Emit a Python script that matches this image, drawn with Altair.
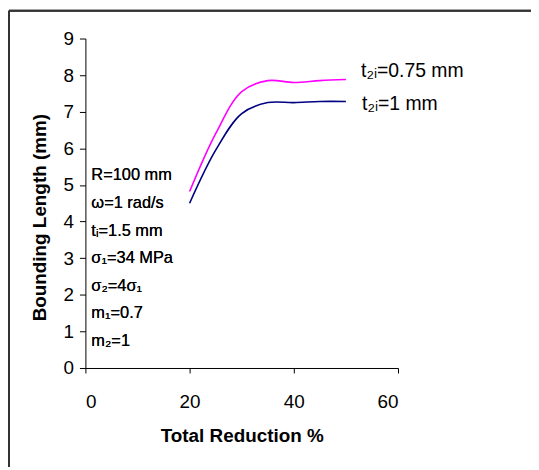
import altair as alt
import pandas as pd

reduction = [20, 25, 30, 35, 40, 45, 50]
len_075 = [4.82, 6.40, 7.55, 7.85, 7.80, 7.85, 7.88]
len_1 = [4.50, 5.95, 6.95, 7.25, 7.25, 7.28, 7.28]
series_names = ["t2i=0.75 mm", "t2i=1 mm"]
series_colors = ["#FF00FF", "#000080"]
label_texts = ["t\u2082\u1d62=0.75 mm", "t\u2082\u1d62=1 mm"]
label_x = [52.9, 53.1]
label_y = [8.1, 7.2]
note_lines = ["R=100 mm", "\u03c9=1 rad/s", "t\u1d62=1.5 mm", "\u03c3\u2081=34 MPa",
              "\u03c3\u2082=4\u03c3\u2081", "m\u2081=0.7", "m\u2082=1"]
x_ticks = [0, 20, 40, 60]
y_ticks = [0, 1, 2, 3, 4, 5, 6, 7, 8, 9]

df = pd.DataFrame({
    "x": reduction * 2,
    "y": len_075 + len_1,
    "s": [series_names[0]] * len(reduction) + [series_names[1]] * len(reduction),
})
lab = pd.DataFrame({"x": label_x, "y": label_y, "t": label_texts})

FONT = "Liberation Sans"

xs = alt.Scale(domain=[0, 60], nice=False)
ys = alt.Scale(domain=[0, 9], nice=False)
xaxis = alt.Axis(values=x_ticks, grid=False, tickSize=5,
                 labelPadding=20, titlePadding=15, labelOverlap=False)
yaxis = alt.Axis(values=y_ticks, grid=False, tickSize=6,
                 labelPadding=6, titlePadding=14, labelOverlap=False, titleY=180)
XT = "Total Reduction %"
YT = "Bounding Length (mm)"

lines = alt.Chart(df).mark_line(interpolate="catmull-rom", strokeWidth=1.6).encode(
    x=alt.X("x:Q", scale=xs, title=XT, axis=xaxis),
    y=alt.Y("y:Q", scale=ys, title=YT, axis=yaxis),
    color=alt.Color("s:N", scale=alt.Scale(domain=series_names, range=series_colors), legend=None),
)

labels = alt.Chart(lab).mark_text(align="left", baseline="middle", font=FONT,
                                  fontSize=19.5, fontWeight="normal", color="black").encode(
    x=alt.X("x:Q", scale=xs, title=XT, axis=xaxis),
    y=alt.Y("y:Q", scale=ys, title=YT, axis=yaxis),
    text="t:N")

notes = alt.Chart(lab).mark_text(align="left", baseline="middle", font=FONT,
                                 fontSize=16.5, fontWeight="normal", color="black",
                                 lineHeight=27.8, text=note_lines).encode(
    x=alt.value(6), y=alt.value(138))

frame = alt.Chart(lab).mark_rule(color="#333333", strokeWidth=2).encode(
    x=alt.value(-77), x2=alt.value(449), y=alt.value(-28))
frame2 = alt.Chart(lab).mark_rule(color="#333333", strokeWidth=2).encode(
    x=alt.value(-77), y=alt.value(-28), y2=alt.value(433))

chart = alt.layer(frame, frame2, lines, labels, notes).properties(
    width=315, height=332,
    autosize=alt.AutoSizeParams(type="none"),
    padding={"left": 78, "top": 29, "right": 134, "bottom": 98},
).configure_view(stroke=None).configure_axis(
    domainColor="black", tickColor="black", labelColor="black", titleColor="black",
    labelFont=FONT, titleFont=FONT, labelFontSize=19, titleFontSize=19,
    titleFontWeight="bold", domainWidth=1, tickWidth=1,
)

chart.save("out.html", embed_options={"renderer": "svg", "actions": False})
